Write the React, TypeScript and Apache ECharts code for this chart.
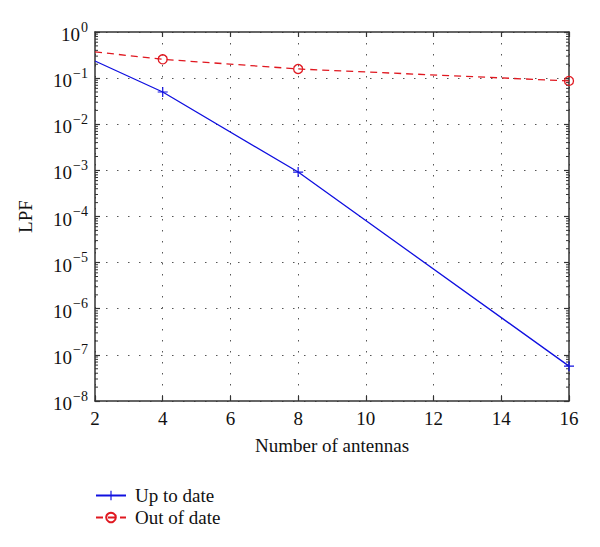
import React, { useEffect, useRef } from "react";
import * as echarts from "echarts";

const antennas = [2, 4, 8, 16];
const upToDate = [0.235, 0.05, 0.00092, 5.7e-8];
const outOfDate = [0.37, 0.256, 0.158, 0.087];
const xTicks = [2, 4, 6, 8, 10, 12, 14, 16];
const decades = [-8, -7, -6, -5, -4, -3, -2, -1, 0];
const minorMultipliers = [2, 3, 4, 5, 6, 7, 8, 9];

const FONT = '"Liberation Serif", "DejaVu Serif", serif';
const BLUE = "#1010e0";
const RED = "#e01820";
const AXIS = "#333333";
const PLUS = "path://M0,4.4H10V5.6H0Z M4.4,0H5.6V10H4.4Z";

export default function App() {
  const ref = useRef<HTMLDivElement>(null);
  useEffect(() => {
    if (!ref.current) return;
    const chart = echarts.init(ref.current, null, { renderer: "svg" });
    const minorValues: number[] = [];
    decades.slice(0, -1).forEach((d) =>
      minorMultipliers.forEach((m) => minorValues.push(m * Math.pow(10, d)))
    );
    const xMin = xTicks[0];
    const xMax = xTicks[xTicks.length - 1];
    const sup = (v: number) => {
      const e = Math.round(Math.log10(v));
      return "{b|10}{s|" + (e < 0 ? "\u2212" + -e : String(e)) + "}";
    };
    chart.setOption({
      animation: false,
      backgroundColor: "#ffffff",
      textStyle: { fontFamily: FONT },
      grid: { left: 95, right: 31, top: 32, bottom: 146, containLabel: false },
      legend: {
        orient: "vertical",
        left: 90,
        top: 481,
        itemGap: 3,
        itemWidth: 30,
        itemHeight: 12,
        textStyle: { fontFamily: FONT, fontSize: 19, color: "#111", padding: [0, 0, 0, 4] },
        data: ["Up to date", "Out of date"],
      },
      xAxis: [
        {
          type: "value",
          min: xMin,
          max: xMax,
          interval: 2,
          position: "bottom",
          name: "Number of antennas",
          nameLocation: "middle",
          nameGap: 35,
          nameTextStyle: { fontFamily: FONT, fontSize: 19, color: "#111" },
          axisLine: { show: true, lineStyle: { color: AXIS, width: 1.5 } },
          axisTick: { show: true, inside: true, length: 5, lineStyle: { color: AXIS, width: 1.2 } },
          axisLabel: { fontFamily: FONT, fontSize: 19, color: "#111", margin: 8 },
          splitLine: { show: true, lineStyle: { color: "#555", width: 1, type: [1.5, 9.5] } },
        },
        {
          type: "value",
          min: xMin,
          max: xMax,
          interval: 2,
          position: "top",
          axisLine: { show: true, onZero: false, lineStyle: { color: AXIS, width: 1.5 } },
          axisTick: { show: true, inside: true, length: 5, lineStyle: { color: AXIS, width: 1.2 } },
          axisLabel: { show: false },
          splitLine: { show: false },
        },
      ],
      yAxis: [
        {
          type: "log",
          logBase: 10,
          min: 1e-8,
          max: 1,
          interval: 1,
          position: "left",
          name: "LPF",
          nameLocation: "middle",
          nameGap: 60,
          nameTextStyle: { fontFamily: FONT, fontSize: 19, color: "#111" },
          axisLine: { show: true, lineStyle: { color: AXIS, width: 1.5 } },
          axisTick: { show: true, inside: true, length: 5, lineStyle: { color: AXIS, width: 1.2 } },
          axisLabel: {
            margin: 7,
            formatter: sup,
            rich: {
              b: { fontFamily: FONT, fontSize: 19, color: "#111", verticalAlign: "bottom" },
              s: { fontFamily: FONT, fontSize: 14, color: "#111", verticalAlign: "bottom", padding: [0, 0, 10, 1] },
            },
          },
          splitLine: { show: true, lineStyle: { color: "#555", width: 1, type: [1.5, 9.5] } },
        },
        {
          type: "log",
          logBase: 10,
          min: 1e-8,
          max: 1,
          interval: 1,
          position: "right",
          axisLine: { show: true, onZero: false, lineStyle: { color: AXIS, width: 1.5 } },
          axisTick: { show: true, inside: true, length: 5, lineStyle: { color: AXIS, width: 1.2 } },
          axisLabel: { show: false },
          splitLine: { show: false },
        },
      ],
      series: [
        {
          name: "Up to date",
          type: "line",
          xAxisIndex: 0,
          yAxisIndex: 0,
          data: antennas.map((x, i) =>
            i === 0 ? { value: [x, upToDate[i]], symbol: "none" } : { value: [x, upToDate[i]] }
          ),
          symbol: PLUS,
          symbolSize: 10,
          showAllSymbol: true,
          lineStyle: { color: BLUE, width: 1.3 },
          itemStyle: { color: BLUE, borderWidth: 0 },
          z: 3,
        },
        {
          name: "Out of date",
          type: "line",
          xAxisIndex: 0,
          yAxisIndex: 0,
          data: antennas.map((x, i) =>
            i === 0 ? { value: [x, outOfDate[i]], symbol: "none" } : { value: [x, outOfDate[i]] }
          ),
          symbol: "circle",
          symbolSize: 9,
          showAllSymbol: true,
          lineStyle: { color: RED, width: 1.3, type: [7, 5] },
          itemStyle: { color: "rgba(255,255,255,0)", borderColor: RED, borderWidth: 1.3 },
          z: 3,
        },
        {
          type: "custom",
          xAxisIndex: 0,
          yAxisIndex: 0,
          silent: true,
          clip: false,
          data: minorValues.map((v) => [xMin, v]),
          renderItem: (params: any, api: any) => {
            const v = api.value(1);
            const l = api.coord([xMin, v]);
            const r = api.coord([xMax, v]);
            return {
              type: "group",
              children: [
                { type: "line", shape: { x1: l[0], y1: l[1], x2: l[0] + 3, y2: l[1] }, style: { stroke: AXIS, lineWidth: 1 } },
                { type: "line", shape: { x1: r[0], y1: r[1], x2: r[0] - 3, y2: r[1] }, style: { stroke: AXIS, lineWidth: 1 } },
              ],
            };
          },
          z: 2,
        },
      ],
    });
    return () => chart.dispose();
  }, []);
  return <div ref={ref} style={{ width: 600, height: 547, margin: -8 }} />;
}
